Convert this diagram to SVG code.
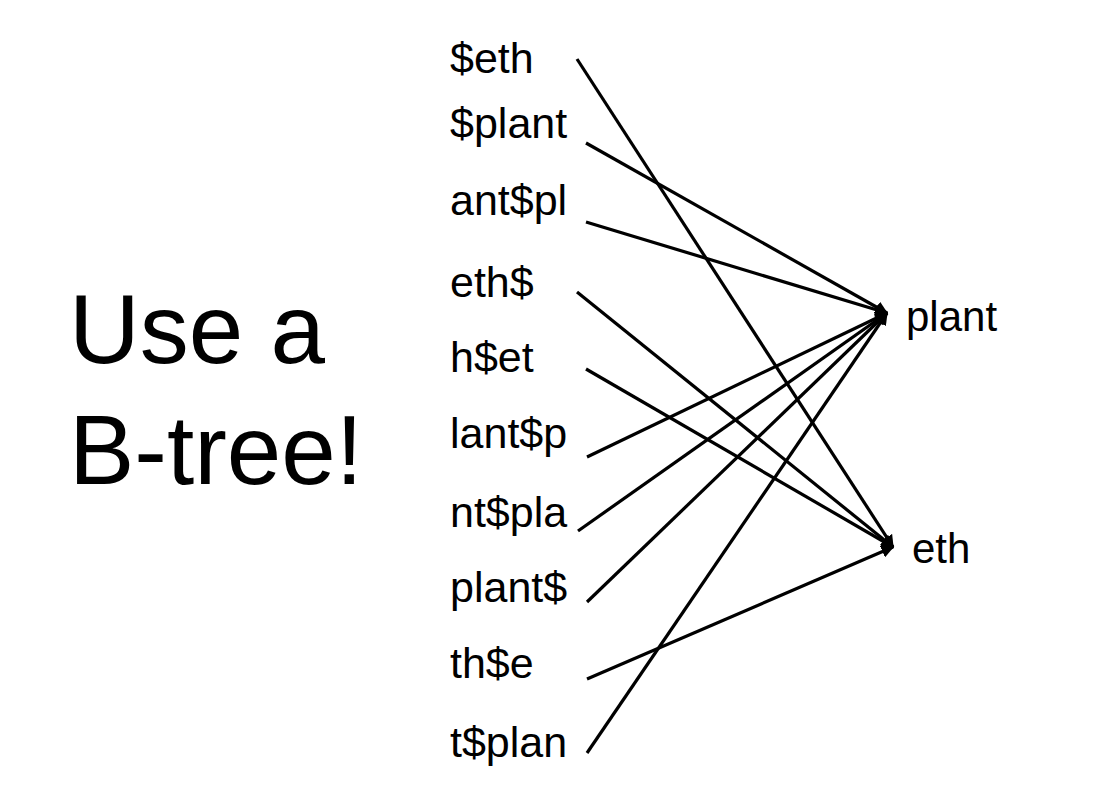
<svg xmlns="http://www.w3.org/2000/svg" width="1108" height="788" viewBox="0 0 1108 788">
<style>
text{font-family:"Liberation Sans",Arial,sans-serif;fill:#000}
.lbl{font-size:43px}
.rlbl{font-size:42px}
.title{font-size:98px}
.c line{stroke:#000;stroke-width:3.2;fill:none}
</style>
<defs>
<marker id="ah" viewBox="0 0 10 10" refX="9" refY="5" markerWidth="4" markerHeight="4" markerUnits="strokeWidth" orient="auto">
<path d="M0,0 L10,5 L0,10 z" fill="#000"/>
</marker>
</defs>
<rect width="1108" height="788" fill="#fff"/>
<g id="title"><text class="title" x="69" y="363">Use a</text><text class="title" x="69" y="484">B-tree!</text></g>
<g id="n-seth"><text class="lbl" x="450" y="73">$eth</text></g>
<g id="n-splant"><text class="lbl" x="450" y="138">$plant</text></g>
<g id="n-antspl"><text class="lbl" x="450" y="215">ant$pl</text></g>
<g id="n-eths"><text class="lbl" x="450" y="297">eth$</text></g>
<g id="n-hset"><text class="lbl" x="450" y="372">h$et</text></g>
<g id="n-lantsp"><text class="lbl" x="450" y="448">lant$p</text></g>
<g id="n-ntspla"><text class="lbl" x="450" y="527">nt$pla</text></g>
<g id="n-plants"><text class="lbl" x="450" y="602">plant$</text></g>
<g id="n-thse"><text class="lbl" x="450" y="678">th$e</text></g>
<g id="n-tsplan"><text class="lbl" x="450" y="757">t$plan</text></g>
<g id="n-plant"><text class="rlbl" x="906" y="331">plant</text></g>
<g id="n-eth"><text class="rlbl" x="912" y="563">eth</text></g>
<g id="connectors" class="c">
<line x1="577" y1="59" x2="893" y2="547" marker-end="url(#ah)"/>
<line x1="586" y1="143" x2="887" y2="313" marker-end="url(#ah)"/>
<line x1="586" y1="222" x2="887" y2="313" marker-end="url(#ah)"/>
<line x1="577" y1="292" x2="893" y2="547" marker-end="url(#ah)"/>
<line x1="586" y1="369" x2="893" y2="547" marker-end="url(#ah)"/>
<line x1="587" y1="457" x2="887" y2="313" marker-end="url(#ah)"/>
<line x1="578" y1="531" x2="887" y2="313" marker-end="url(#ah)"/>
<line x1="587" y1="602" x2="887" y2="313" marker-end="url(#ah)"/>
<line x1="587" y1="679" x2="893" y2="547" marker-end="url(#ah)"/>
<line x1="587" y1="753" x2="887" y2="313" marker-end="url(#ah)"/>
</g>
</svg>
